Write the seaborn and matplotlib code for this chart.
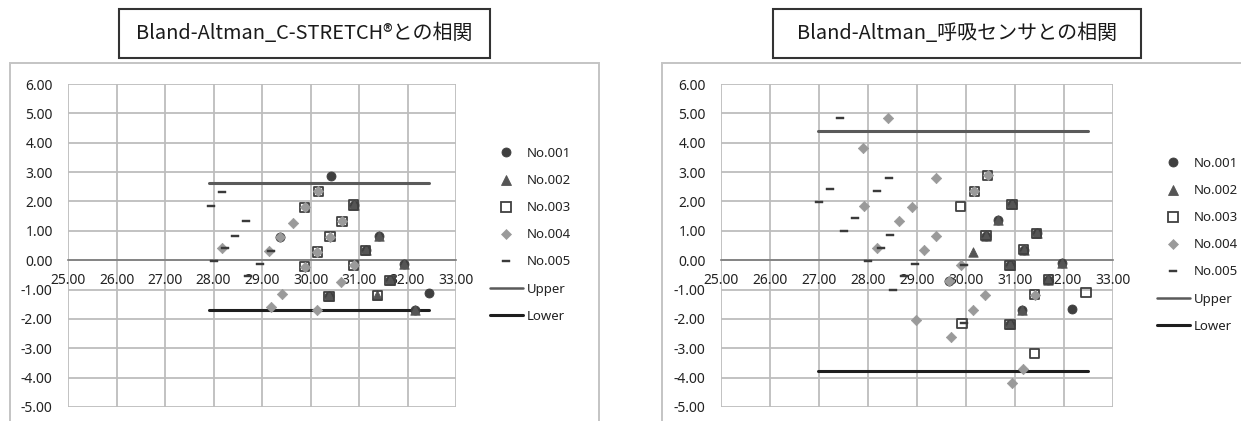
import matplotlib
matplotlib.use("Agg")
import matplotlib.pyplot as plt
from matplotlib.lines import Line2D
from matplotlib.patches import Rectangle
from matplotlib.path import Path
import numpy as np
import pandas as pd
import seaborn as sns

# ---------------- data ----------------
titles = ["Bland-Altman_C-STRETCH®との相関", "Bland-Altman_呼吸センサとの相関"]
subjects = ["No.001", "No.002", "No.003", "No.004", "No.005"]
x_ticks = [25, 26, 27, 28, 29, 30, 31, 32, 33]
y_ticks = [-5, -4, -3, -2, -1, 0, 1, 2, 3, 4, 5, 6]

# C-STRETCH panel: mean (x) and difference (y) per subject
cs_001_x = [30.43, 30.89, 29.37, 31.41, 31.14, 31.92, 31.64, 30.38, 32.45, 32.16]
cs_001_y = [2.88, 1.88, 0.80, 0.83, 0.34, -0.14, -0.68, -1.23, -1.11, -1.68]
cs_002_x = [30.89, 31.41, 31.14, 31.92, 31.64, 30.38, 31.38, 32.16]
cs_002_y = [1.88, 0.83, 0.34, -0.14, -0.68, -1.23, -1.19, -1.68]
cs_003_x = [30.16, 29.88, 30.89, 30.65, 30.40, 30.14, 31.14, 29.88, 30.89, 31.64, 30.38, 31.38]
cs_003_y = [2.34, 1.80, 1.88, 1.32, 0.80, 0.28, 0.34, -0.22, -0.18, -0.68, -1.23, -1.19]
cs_004_x = [30.16, 29.88, 30.65, 29.64, 29.37, 30.40, 30.14, 28.18, 29.14, 29.88, 30.89,
            30.62, 29.42, 29.18, 30.14]
cs_004_y = [2.34, 1.80, 1.32, 1.28, 0.80, 0.80, 0.28, 0.40, 0.31, -0.22, -0.18,
            -0.73, -1.14, -1.61, -1.70]
cs_005_x = [28.18, 27.95, 28.68, 28.45, 28.23, 29.19, 28.02, 28.95, 28.72]
cs_005_y = [2.31, 1.84, 1.32, 0.84, 0.40, 0.31, -0.03, -0.14, -0.53]
cs_limit_x = [27.91, 32.45]
cs_upper = 2.64
cs_lower = -1.68

# respiration sensor panel
rs_001_x = [30.94, 30.41, 31.44, 31.18, 30.90, 30.90, 31.68, 30.66, 31.95, 31.15, 32.17, 29.65]
rs_001_y = [1.90, 0.84, 0.92, 0.36, -0.18, -2.19, -0.67, 1.36, -0.11, -1.69, -1.66, -0.70]
rs_002_x = [30.94, 30.41, 31.44, 31.18, 30.90, 30.90, 31.68, 30.66, 31.95, 31.15, 30.15]
rs_002_y = [1.90, 0.84, 0.92, 0.36, -0.18, -2.19, -0.67, 1.36, -0.11, -1.69, 0.29]
rs_003_x = [29.89, 30.44, 30.17, 29.92, 31.40, 32.45, 31.40,
            30.94, 30.41, 31.44, 31.18, 30.90, 30.90, 31.68]
rs_003_y = [1.82, 2.89, 2.35, -2.15, -3.19, -1.10, -1.18,
            1.90, 0.84, 0.92, 0.36, -0.18, -2.19, -0.67]
rs_004_x = [28.40, 27.89, 27.92, 28.90, 29.39, 28.64, 29.39, 28.19, 29.15, 29.89, 30.39,
            30.14, 28.97, 29.70, 31.16, 30.94, 29.65, 31.40, 30.44, 30.17]
rs_004_y = [4.84, 3.82, 1.86, 1.82, 2.81, 1.33, 0.81, 0.42, 0.34, -0.18, -1.20,
            -1.68, -2.03, -2.60, -3.69, -4.17, -0.70, -1.18, 2.89, 2.35]
rs_005_x = [27.43, 27.22, 27.01, 27.74, 27.52, 28.19, 28.42, 28.45, 28.26, 28.01, 28.95,
            28.52, 28.74, 29.95, 29.95]
rs_005_y = [4.84, 2.43, 1.98, 1.45, 0.99, 2.35, 2.81, 0.87, 0.42, -0.03, -0.14,
            -1.02, -0.53, -0.18, -2.15]
rs_limit_x = [26.97, 32.48]
rs_upper = 4.39
rs_lower = -3.78

# ---------------- styling ----------------
sns.set_theme(style="white")
plt.rcParams["font.family"] = ["Noto Sans", "Noto Sans CJK JP", "DejaVu Sans"]

W, H = 1241, 421
fig = plt.figure(figsize=(W / 100, H / 100), dpi=100)
fig.patch.set_facecolor("white")

dash = Path([(-1, -0.32), (1, -0.32), (1, 0.32), (-1, 0.32), (-1, -0.32)],
            [Path.MOVETO, Path.LINETO, Path.LINETO, Path.LINETO, Path.CLOSEPOLY])

styles = {
    "No.001": dict(marker="o", s=42, color="#3f3f3f", edgecolor="#3f3f3f", linewidth=0.6),
    "No.002": dict(marker="^", s=46, color="#555555", edgecolor="#555555", linewidth=0.6),
    "No.003": dict(marker="s", s=44, facecolor="none", edgecolor="#404040", linewidth=1.3),
    "No.004": dict(marker="D", s=28, color="#9a9a9a", edgecolor="#9a9a9a", linewidth=0.5),
    "No.005": dict(marker=dash, s=34, color="#3a3a3a", edgecolor="#3a3a3a", linewidth=0.3),
}
upper_color, lower_color = "#5a5a5a", "#1e1e1e"
grid_color = "#bdbdbd"
px = lambda v: v / W
py = lambda v: 1 - v / H


def panel(ax, series, limit_x, upper, lower):
    ax.set_xlim(25, 33)
    ax.set_ylim(-5, 6)
    ax.set_xticks(x_ticks)
    ax.set_yticks(y_ticks)
    ax.set_xticklabels([f"{v:.2f}" for v in x_ticks])
    ax.set_yticklabels([f"{v:.2f}" for v in y_ticks])
    ax.grid(True, color=grid_color, linewidth=1.3)
    ax.set_axisbelow(True)
    for side in ("top", "right", "left"):
        ax.spines[side].set_visible(False)
    ax.spines["bottom"].set_position(("data", 0))
    ax.spines["bottom"].set_color("#7a7a7a")
    ax.spines["bottom"].set_linewidth(1.2)
    ax.tick_params(axis="x", length=0, pad=9.5, labelsize=10, colors="#222222")
    ax.tick_params(axis="y", length=0, pad=11, labelsize=10, colors="#222222")
    for lab in ax.get_xticklabels() + ax.get_yticklabels():
        lab.set_color("#222222")

    lim = pd.DataFrame({"x": limit_x * 2,
                        "y": [upper, upper, lower, lower],
                        "line": ["Upper", "Upper", "Lower", "Lower"]})
    sns.lineplot(data=lim, x="x", y="y", hue="line", units="line", estimator=None,
                 palette={"Upper": upper_color, "Lower": lower_color},
                 linewidth=2.2, legend=False, ax=ax, zorder=2)
    for name, (xs, ys) in zip(subjects, series):
        df = pd.DataFrame({"x": xs, "y": ys})
        sns.scatterplot(data=df, x="x", y="y", ax=ax, legend=False, zorder=3,
                        **styles[name])
    ax.set_xlabel("")
    ax.set_ylabel("")


def legend(anchor):
    handles = []
    for name in subjects:
        st = styles[name]
        fc = st.get("facecolor", st.get("color"))
        ms = np.sqrt(st["s"])
        handles.append(Line2D([], [], linestyle="none", marker=st["marker"], markersize=ms,
                              markerfacecolor=fc, markeredgecolor=st["edgecolor"],
                              markeredgewidth=st["linewidth"], label=name))
    handles.append(Line2D([], [], color=upper_color, linewidth=1.8, label="Upper"))
    handles.append(Line2D([], [], color=lower_color, linewidth=2.2, label="Lower"))
    fig.legend(handles=handles, loc="upper left", bbox_to_anchor=anchor,
               frameon=False, fontsize=9.5, handlelength=2.5, handletextpad=0.3,
               labelspacing=1.07, borderpad=0, borderaxespad=0, labelcolor="#222222")


# outer chart-area frames
fig.patches.append(Rectangle((px(10), -0.2), px(599) - px(10), py(63) + 0.2,
                             transform=fig.transFigure, fill=False,
                             edgecolor="#c4c4c4", linewidth=1.4))
fig.patches.append(Rectangle((px(662), -0.2), px(1300) - px(662), py(63) + 0.2,
                             transform=fig.transFigure, fill=False,
                             edgecolor="#c4c4c4", linewidth=1.4))

ax1 = fig.add_axes([px(68), py(407), px(456) - px(68), py(84) - py(407)])
panel(ax1, [(cs_001_x, cs_001_y), (cs_002_x, cs_002_y), (cs_003_x, cs_003_y),
            (cs_004_x, cs_004_y), (cs_005_x, cs_005_y)], cs_limit_x, cs_upper, cs_lower)
ax2 = fig.add_axes([px(721), py(407), px(1113) - px(721), py(84) - py(407)])
panel(ax2, [(rs_001_x, rs_001_y), (rs_002_x, rs_002_y), (rs_003_x, rs_003_y),
            (rs_004_x, rs_004_y), (rs_005_x, rs_005_y)], rs_limit_x, rs_upper, rs_lower)

legend((px(490), py(147)))
legend((px(1157), py(157)))

# title boxes
for (x0, x1), title in zip([(119, 490), (773, 1141)], titles):
    fig.patches.append(Rectangle((px(x0), py(58)), px(x1) - px(x0), py(9) - py(58),
                                 transform=fig.transFigure, facecolor="white",
                                 edgecolor="#333333", linewidth=1.5))
    fig.text(px((x0 + x1) / 2), py(33.5), title, ha="center", va="center",
             fontsize=14.4, color="#1a1a1a",
             family=["Noto Sans CJK JP", "DejaVu Sans"])

fig.savefig("out.png", dpi=100, facecolor="white")
